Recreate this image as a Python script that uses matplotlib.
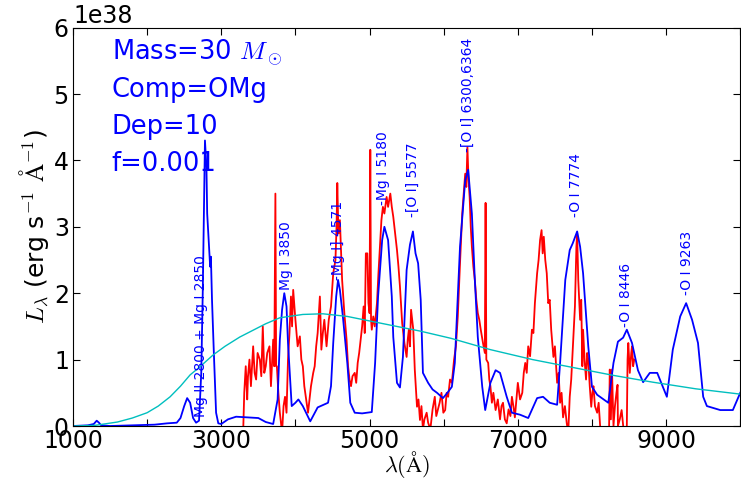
import numpy as np
import matplotlib
matplotlib.use('Agg')
import matplotlib.pyplot as plt

plt.rcParams['mathtext.fontset'] = 'cm'

SCALE = 1e38  # luminosidad en unidades de 1e38 erg/s/A

# espectro modelo (azul)
model_wl = [1000, 1200, 1280, 1320, 1350, 1380, 1500, 1800, 2100, 2270,
            2400, 2450, 2500, 2540, 2580, 2620, 2660, 2700, 2730, 2750,
            2770, 2780, 2800, 2810, 2830, 2850, 2860, 2875, 2900, 2930,
            2960, 3000, 3090, 3200, 3350, 3500, 3600, 3700, 3760, 3790,
            3820, 3850, 3880, 3900, 3950, 4000, 4040, 4100, 4200, 4300,
            4440, 4480, 4510, 4550, 4575, 4600, 4640, 4700, 4740, 4800,
            4900, 5030, 5075, 5115, 5170, 5200, 5250, 5300, 5320, 5370,
            5410, 5450, 5500, 5545, 5585, 5620, 5655, 5690, 5720, 5790,
            5850, 5910, 5990, 6050, 6110, 6150, 6220, 6290, 6330, 6380,
            6420, 6460, 6520, 6560, 6630, 6700, 6760, 6850, 6920, 7030,
            7140, 7260, 7340, 7430, 7530, 7570, 7640, 7700, 7740, 7800,
            7840, 7880, 7950, 8000, 8070, 8220, 8290, 8350, 8420, 8470,
            8540, 8620, 8690, 8780, 8880, 9010, 9090, 9190, 9230, 9270,
            9350, 9430, 9500, 9550, 9730, 9900, 10000]
model_flux = [0.0, 0.01, 0.03, 0.08, 0.05, 0.01, 0.0, 0.01, 0.02, 0.04,
              0.05, 0.12, 0.3, 0.42, 0.35, 0.12, 0.05, 0.08, 0.8, 2.0,
              3.6, 4.3, 3.9, 3.2, 2.8, 2.4, 2.55, 1.9, 1.1, 0.2,
              0.04, 0.03, 0.1, 0.14, 0.13, 0.12, 0.06, 0.03, 0.4, 1.3,
              1.75, 2.0, 1.8, 1.25, 0.3, 0.35, 0.4, 0.3, 0.07, 0.28,
              0.35, 0.6, 1.25, 1.95, 2.2, 2.05, 1.65, 0.95, 0.35, 0.2,
              0.19, 0.21, 0.95, 1.95, 2.8, 3.0, 2.8, 1.95, 1.34, 0.65,
              0.58, 1.04, 2.35, 2.73, 2.93, 2.6, 2.45, 1.9, 0.8, 0.65,
              0.55, 0.5, 0.42, 0.5, 0.59, 0.95, 2.7, 3.7, 3.86, 3.2,
              2.2, 1.34, 0.59, 0.24, 0.65, 0.84, 0.8, 0.44, 0.2, 0.17,
              0.12, 0.42, 0.44, 0.35, 0.32, 0.95, 2.2, 2.65, 2.75, 2.93,
              2.7, 2.3, 1.2, 0.59, 0.47, 0.35, 0.95, 1.27, 1.33, 1.45,
              1.25, 0.84, 0.66, 0.8, 0.8, 0.44, 1.15, 1.65, 1.75, 1.85,
              1.6, 1.25, 0.44, 0.3, 0.24, 0.24, 0.5]

# espectro observado (rojo)
obs_wl = [3290, 3310, 3330, 3350, 3360, 3380, 3400, 3430, 3450, 3470,
          3490, 3520, 3540, 3560, 3580, 3600, 3620, 3650, 3670, 3700,
          3715, 3730, 3740, 3750, 3770, 3790, 3820, 3840, 3860, 3880,
          3900, 3920, 3940, 3955, 3970, 4000, 4030, 4060, 4080, 4100,
          4120, 4140, 4170, 4190, 4210, 4240, 4260, 4280, 4300, 4330,
          4350, 4370, 4390, 4420, 4450, 4480, 4510, 4540, 4555, 4565,
          4580, 4600, 4630, 4660, 4690, 4710, 4730, 4750, 4770, 4800,
          4820, 4840, 4860, 4880, 4900, 4920, 4935, 4950, 4970, 4985,
          5000, 5010, 5020, 5030, 5050, 5070, 5100, 5120, 5140, 5160,
          5180, 5200, 5230, 5250, 5280, 5300, 5320, 5345, 5370, 5390,
          5410, 5440, 5470, 5500, 5515, 5530, 5545, 5560, 5590, 5610,
          5640, 5660, 5680, 5700, 5720, 5740, 5770, 5790, 5820, 5850,
          5880, 5900, 5920, 5945, 5970, 5995, 6020, 6040, 6060, 6085,
          6110, 6140, 6165, 6190, 6220, 6250, 6270, 6290, 6305, 6320,
          6335, 6350, 6365, 6380, 6400, 6420, 6440, 6460, 6480, 6500,
          6530, 6555, 6565, 6575, 6600, 6615, 6630, 6650, 6670, 6700,
          6730, 6760, 6780, 6800, 6825, 6850, 6875, 6900, 6920, 6940,
          6960, 6980, 7000, 7030, 7060, 7080, 7100, 7120, 7140, 7165,
          7190, 7210, 7230, 7260, 7280, 7300, 7320, 7335, 7350, 7370,
          7390, 7410, 7430, 7450, 7480, 7500, 7530, 7550, 7570, 7590,
          7610, 7635, 7660, 7680, 7700, 7720, 7750, 7770, 7790, 7800,
          7815, 7840, 7855, 7870, 7880, 7900, 7920, 7935, 7950, 7970,
          7990, 8005, 8020, 8040, 8070, 8090, 8110, 8130, 8200, 8230,
          8240, 8255, 8270, 8290, 8310, 8330, 8345, 8350, 8375, 8400,
          8430, 8470, 8480, 8490, 8510, 8530, 8540, 8555, 8570]
obs_flux = [-0.3, 0.5, 0.9, 0.4, 0.74, 1.0, 0.6, 1.2, 0.8, 0.7,
            1.1, 1.0, 0.75, 1.5, 0.8, 0.9, 1.1, 1.2, 0.6, 1.3,
            0.9, 3.5, 0.9, 0.9, 0.5, 0.2, -0.1, 0.3, 0.44, 0.2,
            1.0, 1.4, 1.95, 1.5, 2.05, 1.6, 1.2, 1.35, 1.0, 0.9,
            0.6, 0.44, 0.2, 0.4, 0.6, 0.8, 0.9, 1.2, 1.4, 1.95,
            1.15, 1.4, 1.6, 1.2, 1.6, 1.8, 2.3, 2.5, 3.0, 3.66,
            2.9, 3.1, 2.2, 1.7, 1.3, 0.9, 0.7, 0.6, 0.75, 0.8,
            0.65, 0.95, 1.1, 1.3, 1.5, 1.8, 1.4, 2.6, 2.6, 1.85,
            1.7, 4.16, 1.6, 1.45, 1.65, 1.5, 1.85, 2.3, 2.7, 3.1,
            3.3, 3.2, 3.45, 3.3, 3.5, 3.3, 3.15, 2.9, 2.65, 2.4,
            2.1, 1.55, 1.25, 1.04, 1.3, 1.45, 1.2, 1.75, 1.45, 0.85,
            0.29, 0.4, 0.09, 0.3, -0.05, 0.1, 0.2, 0.05, -0.05, 0.25,
            0.44, 0.15, 0.24, 0.35, 0.5, 0.2, 0.24, 0.5, 0.44, 0.7,
            0.65, 1.0, 1.2, 1.65, 2.45, 3.2, 3.5, 3.8, 3.6, 4.2,
            3.7, 3.45, 3.0, 2.7, 2.4, 2.2, 1.9, 1.7, 1.6, 1.45,
            1.25, 1.1, 3.36, 1.0, 0.95, 0.7, 0.6, 0.35, 0.5, 0.24,
            0.4, 0.1, 0.3, 0.35, 0.1, 0.04, 0.25, 0.15, 0.44, 0.3,
            0.13, 0.4, 0.65, 0.4, 0.5, 0.8, 0.95, 0.8, 1.2, 1.05,
            1.45, 1.4, 1.85, 2.3, 2.5, 2.8, 2.95, 2.6, 2.85, 2.5,
            2.3, 1.85, 1.9, 1.45, 1.04, 1.2, 0.65, 0.8, 0.35, 0.5,
            0.13, 0.3, 0.04, -0.1, 0.44, 0.7, 1.35, 1.8, 2.7, 2.9,
            2.2, 1.6, 1.9, 0.9, 1.45, 1.0, 0.7, 1.1, 1.0, 0.6,
            0.29, 0.5, 0.6, 0.3, 0.2, 0.35, 0.0, -0.3, -0.3, -0.1,
            0.85, 0.1, 0.85, 0.0, 0.3, 0.5, 0.62, 0.0, 0.1, 0.24,
            -0.1, 0.0, 1.0, 1.25, 0.8, 1.1, 1.2, 0.9, 1.0]

# cuerpo negro (cian)
bb_wl = [1000, 1300, 1600, 1800, 2000, 2150, 2310, 2450, 2580, 2700,
         2890, 3050, 3250, 3390, 3600, 3790, 4100, 4370, 4700, 5010,
         5410, 5680, 6100, 6630, 7200, 7840, 8300, 8820, 9400, 10000]
bb_flux = [0.0, 0.01, 0.06, 0.12, 0.2, 0.3, 0.44, 0.6, 0.77, 0.88,
           1.07, 1.2, 1.34, 1.42, 1.54, 1.63, 1.68, 1.69, 1.65, 1.58,
           1.49, 1.43, 1.32, 1.15, 1.0, 0.86, 0.76, 0.66, 0.56, 0.48]

# identificacion de lineas
line_names = ['Mg II 2800 + Mg I 2850', 'Mg I 3850', '-Mg I] 4571',
              '-Mg I 5180', '-[O I] 5577', '-[O I] 6300,6364',
              '-O I 7774', '-O I 8446', '-O I 9263']
line_wl = [2720, 3870, 4575, 5180, 5590, 6320, 7790, 8460, 9280]
line_y = [0.14, 2.05, 2.2, 3.33, 3.15, 4.13, 3.15, 1.49, 1.98]

info = [r'Mass=30 $M_\odot$', 'Comp=OMg', 'Dep=10', 'f=0.001']

fig = plt.figure(figsize=(7.41, 4.8), dpi=100)
ax = fig.add_axes([0.0985, 0.1125, 0.9005, 0.83])

ax.plot(obs_wl, np.array(obs_flux) * SCALE, color='r', lw=1.3)
ax.plot(model_wl, np.array(model_flux) * SCALE, color='b', lw=1.3)
ax.plot(bb_wl, np.array(bb_flux) * SCALE, color='c', lw=1.0)

for name, wl, y in zip(line_names, line_wl, line_y):
    ax.text(wl, y * SCALE, name, rotation=90, ha='center', va='bottom',
            color='b', fontsize=10)

for i, t in enumerate(info):
    ax.text(0.058, 0.92 - 0.093 * i, t, transform=ax.transAxes,
            color='b', fontsize=18.5, va='baseline')

ax.set_xlim(1000, 10000)
ax.set_ylim(0, 6 * SCALE)
ticks = list(range(1000, 10001, 1000))
ax.set_xticks(ticks)
ax.set_xticklabels([str(t) if (t // 1000) % 2 == 1 and t < 10000 else '' for t in ticks])
ax.set_yticks([k * SCALE for k in range(7)])
ax.tick_params(direction='in', top=True, right=True, length=5, labelsize=17, pad=3)
ax.tick_params(axis='x', pad=2)
ax.yaxis.get_offset_text().set_fontsize(17)

ax.set_xlabel(r'$\lambda(\mathrm{\AA})$', fontsize=16, labelpad=-3)
ax.set_ylabel(r'$L_\lambda$ (erg s$^{-1}$ $\mathrm{\AA}^{-1}$)', fontsize=18, labelpad=2)

fig.savefig('out.png', dpi=100)
